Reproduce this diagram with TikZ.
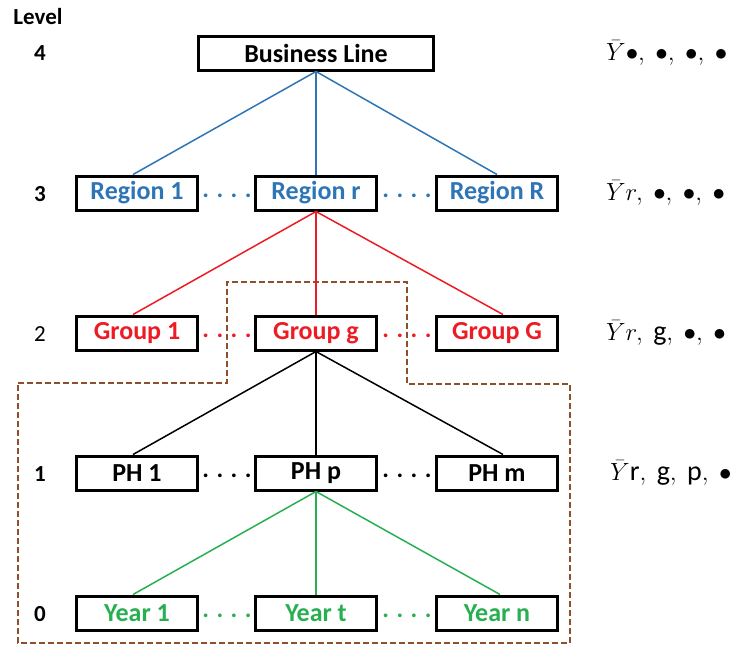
\documentclass[tikz,border=0pt]{standalone}
\usepackage{fontspec}
\setmainfont{Carlito}
\definecolor{blueC}{RGB}{46,117,182}
\definecolor{redC}{RGB}{237,28,36}
\definecolor{greenC}{RGB}{40,175,80}
\definecolor{brownC}{RGB}{140,80,45}
\begin{document}
\begin{tikzpicture}[x=1pt,y=-1pt,
  box/.style={draw=black, line width=3pt, minimum width=121pt, minimum height=34pt, inner sep=0pt, font=\bfseries\fontsize{26}{30}\selectfont},
  dotsnode/.style={inner sep=0pt, font=\bfseries\fontsize{25}{30}\selectfont},
  lvl/.style={inner sep=0pt, font=\bfseries\fontsize{23}{27}\selectfont},
  formula/.style={inner sep=0pt, anchor=west, font=\fontsize{28}{32}\selectfont},
  conn/.style={line width=1.5pt},
  frame/.style={draw=brownC, line width=1.8pt, dash pattern=on 6pt off 3pt}
]
\useasboundingbox (0,0) rectangle (738,646);
% level labels
\node[lvl] (lv) at (38,17) {Level};
\node[lvl] (l4) at (40,53) {4};
\node[lvl] (l3) at (40,194) {3};
\node[lvl, font=\fontsize{23}{27}\selectfont] (l2) at (40,334) {2};
\node[lvl] (l1) at (40,474) {1};
\node[lvl] (l0) at (40,614) {0};
% dashed frame
\draw[frame] (18,383) -- (227,383) -- (227,282) -- (407,282) -- (407,384) -- (570,384) -- (570,643) -- (18,643) -- cycle;
% level 4
\node[box, minimum width=235pt] (bl) at (316,53) {Business Line};
% level 3
\node[box, text=blueC] (r1) at (137,193) {Region 1};
\node[box, text=blueC] (rr) at (316,193) {Region r};
\node[box, text=blueC] (rR) at (497,193) {Region R};
\node[dotsnode, text=blueC] (d31) at (227,196) {. . . .};
\node[dotsnode, text=blueC] (d32) at (407,196) {. . . .};
% level 2
\node[box, text=redC] (g1) at (137,333) {Group 1};
\node[box, text=redC] (gg) at (316,333) {Group g};
\node[box, text=redC] (gG) at (497,333) {Group G};
\node[dotsnode, text=redC] (d21) at (227,336) {. . . .};
\node[dotsnode, text=redC] (d22) at (407,336) {. . . .};
% level 1
\node[box] (p1) at (137,473) {PH 1};
\node[box] (pp) at (316,473) {PH p};
\node[box] (pm) at (497,473) {PH m};
\node[dotsnode] (d11) at (227,476) {. . . .};
\node[dotsnode] (d12) at (407,476) {. . . .};
% level 0
\node[box, text=greenC] (y1) at (137,613) {Year 1};
\node[box, text=greenC] (yt) at (316,613) {Year t};
\node[box, text=greenC] (yn) at (497,613) {Year n};
\node[dotsnode, text=greenC] (d01) at (227,616) {. . . .};
\node[dotsnode, text=greenC] (d02) at (407,616) {. . . .};
% connectors
\draw[conn, blueC] (bl.south) -- ([xshift=-4pt]r1.north);
\draw[conn, blueC] (bl.south) -- (rr.north);
\draw[conn, blueC] (bl.south) -- (rR.north);
\draw[conn, redC] (rr.south) -- ([xshift=-4pt]g1.north);
\draw[conn, redC] (rr.south) -- (gg.north);
\draw[conn, redC] (rr.south) -- ([xshift=6pt]gG.north);
\draw[conn, black] (gg.south) -- ([xshift=-4pt]p1.north);
\draw[conn, black] (gg.south) -- (pp.north);
\draw[conn, black] (gg.south) -- ([xshift=6pt]pm.north);
\draw[conn, greenC] (pp.south) -- ([xshift=-4pt]y1.north);
\draw[conn, greenC] (pp.south) -- (yt.north);
\draw[conn, greenC] (pp.south) -- ([xshift=3pt]yn.north);
% formulas
\node[formula] (f4) at (606,53) {$\bar{Y}\bullet,\ \bullet,\ \bullet,\ \bullet$};
\node[formula] (f3) at (606,193) {$\bar{Y}r,\ \bullet,\ \bullet,\ \bullet$};
\node[formula] (f2) at (606,333) {$\bar{Y}r,\ \mathrm{g},\ \bullet,\ \bullet$};
\node[formula] (f1) at (610,473) {$\bar{Y}\mathrm{r},\ \mathrm{g},\ \mathrm{p},\ \bullet$};
\end{tikzpicture}
\end{document}
